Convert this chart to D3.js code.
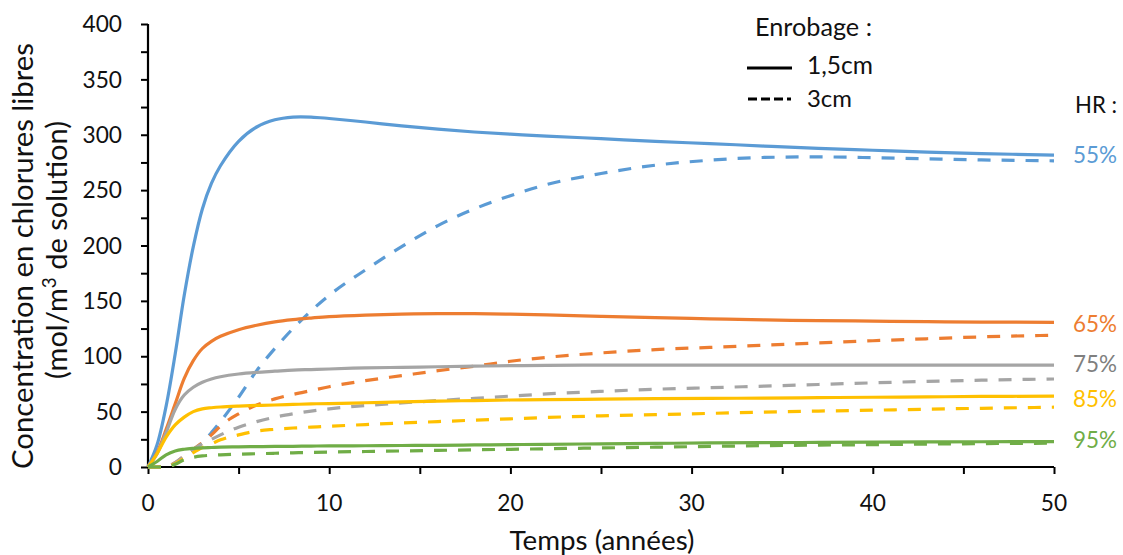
<!DOCTYPE html>
<html>
<head>
<meta charset="utf-8">
<script src="https://cdn.jsdelivr.net/npm/d3@7"></script>
<style>
  html, body { margin: 0; padding: 0; background: #fff; }
  svg { display: block; }
  text { font-family: Lato, "Noto Sans", sans-serif; }
</style>
</head>
<body>
<svg id="chart" width="1123" height="555"></svg>
<script>
// ---------------- DATA ----------------
const years = [0,0.5,1,1.5,2,2.5,3,3.5,4,5,6,7,8,9,10,12,14,16,18,20,22,25,28,31,34,37,40,43,46,50];

// HR 55%
const hr55_c15 = [0,20,55,102,155,199,233,256,272,294,307,313.5,316,316,314.7,311.5,308,305,302.5,300.5,298.8,296.5,294,292,289.8,287.7,286,284.3,283,281.6];
const hr55_c30 = [0,0,0,3,9,15,22,31,41,63,87,107,125,141,155,178,199,218,233,245,255,265,272.5,277,279.5,280,279.3,278.3,277.3,276.5];
// HR 65%
const hr65_c15 = [0,13,34,57,80,96,107,113.5,118,124,128,131,133,134.5,135.8,137.2,138,138.5,138.5,138,137.3,136,134.8,133.8,132.8,132.2,131.7,131.2,130.9,130.6];
const hr65_c30 = [0,0,0,4,10,16,22,29,37,48,56,61.5,65.5,69,72.5,78,82.5,87,91,95.5,99,103,106,108,110,112,114,115.8,117.5,119];
// HR 75%
const hr75_c15 = [0,12,31,52,65,72,76.5,79.5,81.5,84,85.5,86.5,87.5,88,88.5,89.5,90,90.5,91,91.5,91.7,92,92,92,92,92,92,92,92,92];
const hr75_c30 = [0,0,0,4,10,16,21,25,29,36,41,45,48,50.5,52.5,55.5,57.8,60,62,64,66,68.3,70.2,71.6,73,74.5,76,77.3,78.4,79.5];
// HR 85%
const hr85_c15 = [0,12,27,38,45,50,52.5,53.5,54.2,55,55.6,56,56.5,57,57.3,58,58.8,59.5,60,60.5,60.8,61.3,61.7,62,62.2,62.6,63,63.3,63.7,64];
const hr85_c30 = [0,0,0,3,8,13,17.5,21,24.5,29,32.5,34,35.2,36,36.8,38.3,39.7,41,42.3,43.5,44.7,46.2,47.3,48.4,49.6,50.5,51.3,52.2,53,54];
// HR 95%
const hr95_c15 = [0,5,11,14.5,16,16.8,17.3,17.6,17.9,18.2,18.4,18.6,18.7,18.9,19,19.2,19.4,19.6,19.9,20.2,20.5,20.9,21.3,21.7,22,22.2,22.4,22.6,22.8,23];
const hr95_c30 = [0,0,0,2.5,6.5,8.8,10,10.6,11,11.6,12,12.4,12.8,13.2,13.5,14,14.5,15,15.5,16,16.5,17.2,17.9,18.6,19.3,19.8,20.2,20.7,21.1,21.5];

const hrLabels = ["55%","65%","75%","85%","95%"];
const coverLabels = ["1,5cm","3cm"];
const xTicks = [0,10,20,30,40,50];
const yTicks = [0,50,100,150,200,250,300,350,400];

// ---------------- STYLE / LAYOUT ----------------
const colors = ["#5B9BD5","#ED7D31","#A5A5A5","#FFC000","#70AD47"];
const labelColors = ["#5B9BD5","#ED7D31","#7F7F7F","#FFC000","#70AD47"];
const labelBaselines = [163, 332, 372, 407, 448];

const svg = d3.select("#chart");
const x = d3.scaleLinear().domain([0,50]).range([148,1054]);
const y = d3.scaleLinear().domain([0,400]).range([467,24]);

function fit(sel, w) {
  const n = sel.node();
  const cur = n.getComputedTextLength();
  const fs = parseFloat(sel.attr("font-size"));
  if (cur > 0) sel.attr("font-size", (fs * w / cur).toFixed(2));
  return sel;
}

// axes
const yAxis = d3.axisLeft(y).tickValues(d3.range(0,401,25)).tickSize(7).tickFormat("");
const gy = svg.append("g").attr("transform","translate(148,0)").call(yAxis);
const xAxis = d3.axisBottom(x).tickValues(d3.range(0,51,5)).tickSize(7).tickFormat("");
const gx = svg.append("g").attr("transform","translate(0,467)").call(xAxis);
[gx, gy].forEach(g => {
  g.select(".domain").attr("stroke","#000").attr("stroke-width",2.2);
  g.selectAll(".tick line").attr("stroke","#000").attr("stroke-width",2);
});
gx.select(".domain").attr("d", `M${x(0)},0H${x(50)}`);
gy.select(".domain").attr("d", `M0,${y(0)}V${y(400)}`);

// tick labels
const ytl = svg.append("g").selectAll("text").data(yTicks).join("text")
  .attr("x",122).attr("y",d => y(d)+8.2).attr("text-anchor","end")
  .attr("font-size",23).attr("fill","#111").text(d => d);
const xtl = svg.append("g").selectAll("text").data(xTicks).join("text")
  .attr("x",d => x(d)).attr("y",511).attr("text-anchor","middle")
  .attr("font-size",23).attr("fill","#111").text(d => d);
{
  const n = ytl.filter(d => d===400).node();
  const w = n.getComputedTextLength();
  const fs = 23 * 39.5 / w;
  ytl.attr("font-size",fs); xtl.attr("font-size",fs);
}

// axis titles
const yt1 = svg.append("text").attr("font-size",28).attr("fill","#111")
  .attr("text-anchor","middle")
  .attr("transform","translate(33,256) rotate(-90)")
  .text("Concentration en chlorures libres");
fit(yt1, 426);
const yt2 = svg.append("text").attr("font-size",28).attr("fill","#111")
  .attr("text-anchor","middle")
  .attr("transform","translate(67,250) rotate(-90)");
yt2.append("tspan").text("(mol/m");
yt2.append("tspan").attr("baseline-shift","super").attr("font-size","65%").text("3");
yt2.append("tspan").text(" de solution)");
fit(yt2, 258);

const xt = svg.append("text").attr("font-size",28).attr("fill","#111")
  .attr("text-anchor","middle").attr("x",602).attr("y",550).text("Temps (années)");
fit(xt, 185);

// series
const seriesData = [
  {c:0, dash:false, v:hr55_c15},{c:0, dash:true, v:hr55_c30},
  {c:1, dash:false, v:hr65_c15},{c:1, dash:true, v:hr65_c30},
  {c:2, dash:false, v:hr75_c15},{c:2, dash:true, v:hr75_c30},
  {c:3, dash:false, v:hr85_c15},{c:3, dash:true, v:hr85_c30},
  {c:4, dash:false, v:hr95_c15},{c:4, dash:true, v:hr95_c30}
];
const lineSolid = d3.line().x((d,i) => x(years[i])).y(d => y(d)).curve(d3.curveCatmullRom.alpha(0.5));
const lineDash = d3.line().x((d,i) => x(years[i])).y(d => y(d)).curve(d3.curveMonotoneX);
svg.append("g").selectAll("path").data(seriesData).join("path")
  .attr("d", d => d.dash ? lineDash(d.v) : lineSolid(d.v))
  .attr("fill","none")
  .attr("stroke", d => colors[d.c])
  .attr("stroke-width",3.2)
  .attr("stroke-linejoin","round")
  .attr("stroke-dasharray", d => d.dash ? "13,11" : null);

// HR labels
svg.append("text").attr("x",1075).attr("y",113).attr("font-size",24).attr("fill","#111").text("HR :")
  .call(s => fit(s, 42));
svg.append("g").selectAll("text").data(hrLabels).join("text")
  .attr("x",1073).attr("y",(d,i) => labelBaselines[i])
  .attr("font-size",24).attr("fill",(d,i) => labelColors[i]).text(d => d)
  .each(function(){ fit(d3.select(this), 44); });

// legend
const leg = svg.append("g");
leg.append("text").attr("x",755).attr("y",36).attr("font-size",24).attr("fill","#111").text("Enrobage :")
  .call(s => fit(s, 117));
leg.append("line").attr("x1",747).attr("x2",792).attr("y1",68).attr("y2",68)
  .attr("stroke","#000").attr("stroke-width",3);
leg.append("line").attr("x1",748).attr("x2",791).attr("y1",99).attr("y2",99)
  .attr("stroke","#000").attr("stroke-width",3).attr("stroke-dasharray","9,4");
leg.append("text").attr("x",807).attr("y",74).attr("font-size",24).attr("fill","#111").text(coverLabels[0])
  .call(s => fit(s, 66));
leg.append("text").attr("x",807).attr("y",107).attr("font-size",24).attr("fill","#111").text(coverLabels[1])
  .call(s => fit(s, 45));
</script>
</body>
</html>
